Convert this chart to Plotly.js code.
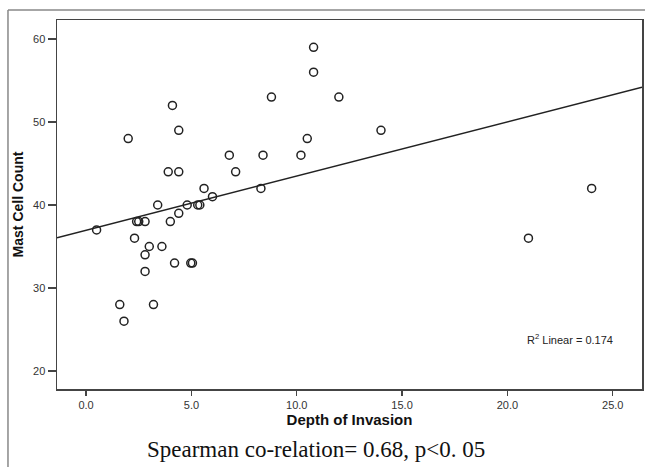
<!DOCTYPE html>
<html>
<head>
<meta charset="utf-8">
<script src="https://cdn.plot.ly/plotly-3.0.1.min.js"></script>
<style>
  html, body { margin: 0; padding: 0; background: #fff; }
  #chart { width: 645px; height: 467px; }
</style>
</head>
<body>
<div id="chart"></div>
<script>
// Depth of invasion (x) and mast cell count (y)
const depthOfInvasion = [
  10.8, 10.8, 4.1, 8.8, 12.0, 2.0, 4.4, 10.5, 6.8, 8.4,
  10.2, 3.9, 4.4, 7.1, 5.6, 8.3, 6.0, 14.0, 24.0, 21.0,
  3.4, 4.8, 5.3, 5.4, 4.4, 2.4, 2.5, 2.8, 4.0, 0.5,
  2.3, 3.0, 3.6, 2.8, 4.2, 4.97, 5.05, 2.8, 1.6, 3.2,
  1.8
];
const mastCellCount = [
  59, 56, 52, 53, 53, 48, 49, 48, 46, 46,
  46, 44, 44, 44, 42, 42, 41, 49, 42, 36,
  40, 40, 40, 40, 39, 38, 38, 38, 38, 37,
  36, 35, 35, 34, 33, 33, 33, 32, 28, 28,
  26
];
const xTickValues = [0, 5, 10, 15, 20, 25];
const yTickValues = [20, 30, 40, 50, 60];
const xRange = [-1.38, 26.39];
const yRange = [17.83, 62.29];
const r2Text = "R<sup>2</sup> Linear = 0.174";
const captionText = "Spearman co-relation= 0.68, p&lt;0. 05";

// Least-squares fit from the data
const n = depthOfInvasion.length;
const mx = depthOfInvasion.reduce((a, b) => a + b, 0) / n;
const my = mastCellCount.reduce((a, b) => a + b, 0) / n;
let sxy = 0, sxx = 0;
for (let i = 0; i < n; i++) {
  sxy += (depthOfInvasion[i] - mx) * (mastCellCount[i] - my);
  sxx += (depthOfInvasion[i] - mx) * (depthOfInvasion[i] - mx);
}
const slope = sxy / sxx;
const intercept = my - slope * mx;
const fitX = [xRange[0], xRange[1]];
const fitY = fitX.map(x => intercept + slope * x);

const sans = '"Liberation Sans", Arial, sans-serif';

const traces = [
  {
    x: fitX, y: fitY, mode: 'lines', type: 'scatter',
    line: { color: '#222', width: 1.4 }, hoverinfo: 'skip', showlegend: false
  },
  {
    x: depthOfInvasion, y: mastCellCount, mode: 'markers', type: 'scatter',
    marker: { symbol: 'circle-open', size: 8, color: '#222', line: { width: 1.5, color: '#222' } },
    showlegend: false
  }
];

const layout = {
  width: 645, height: 467,
  margin: { l: 57, r: 3, t: 20, b: 78 },
  paper_bgcolor: '#fff', plot_bgcolor: '#fff',
  showlegend: false,
  xaxis: {
    range: xRange, tickvals: xTickValues, tickformat: '.1f',
    showgrid: false, zeroline: false,
    showline: true, mirror: true, linecolor: '#444', linewidth: 1.5,
    ticks: 'outside', ticklen: 5, tickwidth: 1.5, tickcolor: '#444',
    tickfont: { family: sans, size: 11, color: '#333' },
    title: { text: '<b>Depth of Invasion</b>', font: { family: sans, size: 15, color: '#111' }, standoff: 5 }
  },
  yaxis: {
    range: yRange, tickvals: yTickValues,
    showgrid: false, zeroline: false,
    showline: true, mirror: true, linecolor: '#444', linewidth: 1.5,
    ticks: 'outside', ticklen: 8, tickwidth: 1.5, tickcolor: '#444',
    tickfont: { family: sans, size: 11, color: '#333' },
    title: { text: '<b>Mast Cell Count</b>', font: { family: sans, size: 14, color: '#111' }, standoff: 6 }
  },
  annotations: [
    {
      xref: 'paper', yref: 'paper', x: 0.8, y: 0.1355, xanchor: 'left', yanchor: 'middle',
      text: r2Text, showarrow: false, font: { family: sans, size: 11, color: '#222' }
    },
    {
      xref: 'paper', yref: 'paper', x: 0.443, y: -0.165, xanchor: 'center', yanchor: 'middle',
      text: captionText, showarrow: false,
      font: { family: '"Liberation Serif", "Times New Roman", serif', size: 23, color: '#111' }
    }
  ],
  shapes: [
    { type: 'line', xref: 'paper', yref: 'paper', x0: -0.0838, x1: 1.01, y0: 1.0271, y1: 1.0271,
      line: { color: '#888', width: 1.5 } },
    { type: 'line', xref: 'paper', yref: 'paper', x0: -0.0838, x1: -0.0838, y0: 1.0271, y1: -0.22,
      line: { color: '#888', width: 1.5 } }
  ]
};

Plotly.newPlot('chart', traces, layout, { displayModeBar: false, staticPlot: true });
</script>
</body>
</html>
